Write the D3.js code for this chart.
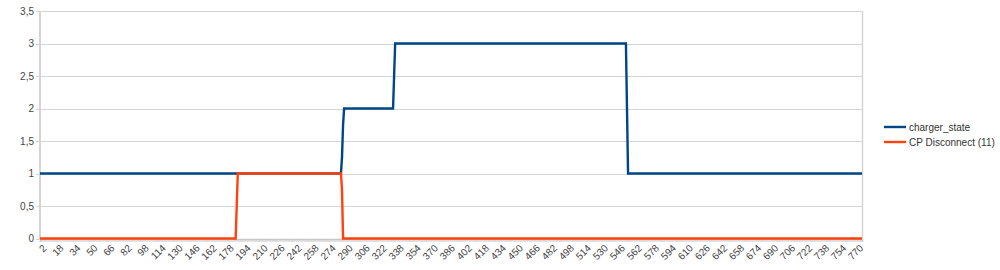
<!DOCTYPE html>
<html><head><meta charset="utf-8">
<script src="https://cdn.jsdelivr.net/npm/d3@7"></script>
<style>body{margin:0;background:#fff}svg{display:block;font-family:"Liberation Sans",Arial,sans-serif}</style>
</head><body><svg id="c" width="1000" height="270"></svg>
<script>
// categories 2..775
const firstCategory = 2;
const lastCategory = 775;
// runs: [start category, value] — value holds until next run
const chargerStateRuns = [[2,1],[286,1.25],[287,1.75],[288,2],[335,2.5],[336,3],[554,2],[555,1]];
const cpDisconnectRuns = [[2,0],[187,0.5],[188,1],[286,0.75],[287,0]];
const yTicks = [0,0.5,1,1.5,2,2.5,3,3.5];
const xLabelStep = 16;
const seriesNames = ["charger_state","CP Disconnect (11)"];
const seriesColors = ["#004586","#ff420e"];

const categories = d3.range(firstCategory, lastCategory+1);
function expand(runs){
  return categories.map(c=>{let v=runs[0][1];for(const r of runs){if(c>=r[0])v=r[1];}return v;});
}
const series = [expand(chargerStateRuns), expand(cpDisconnectRuns)];

const svg = d3.select("#c");
const L=40,R=862,T=11,B=238.5;
const x = d3.scalePoint().domain(categories).range([L,R]);
const y = d3.scaleLinear().domain([0,3.5]).range([B,T]);

// grid
svg.append("g").selectAll("line").data(yTicks).join("line")
  .attr("x1",L-4).attr("x2",R).attr("y1",d=>Math.round(y(d))+0.5).attr("y2",d=>Math.round(y(d))+0.5)
  .attr("stroke","#d4d4d4").attr("stroke-width",1.2);
// right border
svg.append("line").attr("x1",R+0.5).attr("x2",R+0.5).attr("y1",T).attr("y2",B).attr("stroke","#d4d4d4").attr("stroke-width",1.5);
// left axis
svg.append("line").attr("x1",L).attr("x2",L).attr("y1",T).attr("y2",B+1).attr("stroke","#d4d4d4").attr("stroke-width",2);
// y labels
svg.append("g").selectAll("text").data(yTicks).join("text")
  .attr("x",L-6).attr("y",d=>y(d)+3.5).attr("text-anchor","end")
  .attr("font-size",10).attr("fill","#444")
  .text(d=>String(d).replace(".",","));

// x axis
const xAxis = d3.axisBottom(x).tickValues(categories).tickSize(3).tickFormat("");
const gx = svg.append("g").attr("transform",`translate(0,${Math.round(B)})`).call(xAxis);
gx.select(".domain").attr("stroke","#c8c8c8").attr("stroke-width",1.5);
gx.selectAll(".tick line").attr("stroke","#c8c8c8").attr("stroke-width",0.6);
const labelCats = categories.filter(c=>(c-firstCategory)%xLabelStep===0);
svg.append("g").selectAll("text").data(labelCats).join("text")
  .attr("transform",d=>`translate(${x(d)+3},${B+6}) rotate(-45)`)
  .attr("text-anchor","end").attr("dy","0.6em")
  .attr("font-size",10).attr("fill","#444").text(d=>d);

// lines
const line = d3.line().x((d,i)=>x(categories[i])).y(d=>y(d));
series.forEach((s,i)=>{
  svg.append("path").datum(s).attr("d",line).attr("fill","none")
    .attr("stroke",seriesColors[i]).attr("stroke-width",2.4).attr("stroke-linejoin","miter");
});

// legend
const lg = svg.append("g");
seriesNames.forEach((n,i)=>{
  const yy = 127 + i*15;
  lg.append("line").attr("x1",884).attr("x2",906).attr("y1",yy).attr("y2",yy).attr("stroke",seriesColors[i]).attr("stroke-width",2.4);
  lg.append("text").attr("x",909).attr("y",yy+3.5).attr("font-size",10).attr("fill","#333").text(n);
});
</script></body></html>
